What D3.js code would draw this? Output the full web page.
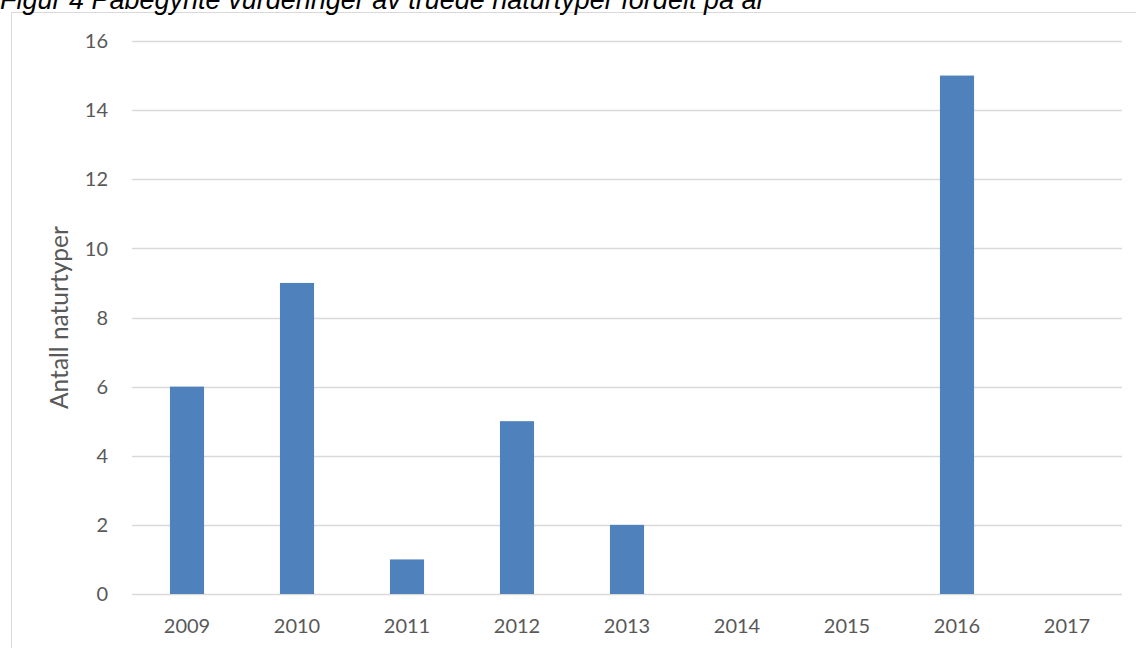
<!DOCTYPE html>
<html>
<head>
<meta charset="utf-8">
<script src="https://cdn.jsdelivr.net/npm/d3@7"></script>
<style>
  body { margin: 0; background: #fff; }
  svg { display: block; }
</style>
</head>
<body>
<svg></svg>
<script>
const years = ["2009", "2010", "2011", "2012", "2013", "2014", "2015", "2016", "2017"];
const antall = [6, 9, 1, 5, 2, 0, 0, 15, 0];
const yTicks = [0, 2, 4, 6, 8, 10, 12, 14, 16];

const width = 1136;
const height = 648;

const svg = d3.select("svg").attr("width", width).attr("height", height);

// chart area frame (only top and left edges are visible in the crop)
svg.append("line")
    .attr("x1", 11.5).attr("x2", width).attr("y1", 12.5).attr("y2", 12.5)
    .attr("stroke", "#d9d9d9");
svg.append("line")
    .attr("x1", 11.5).attr("x2", 11.5).attr("y1", 12.5).attr("y2", height)
    .attr("stroke", "#d9d9d9");

// title, partly cut off at the top like in the source
svg.append("text")
    .attr("x", 0).attr("y", 9)
    .attr("font-family", "Liberation Sans, Arial, sans-serif")
    .attr("font-style", "italic")
    .attr("font-size", 27)
    .attr("fill", "#000")
    .text("Figur 4 Påbegynte vurderinger av truede naturtyper fordelt på år");

const x = d3.scaleBand().domain(years).range([132, 1122]).paddingInner(0.69).paddingOuter(0.345);
const y = d3.scaleLinear().domain([0, 16]).range([594, 41]);

const font = "Lato, 'Open Sans', sans-serif";

// gridlines
svg.append("g")
    .selectAll("line")
    .data(yTicks)
    .enter()
    .append("line")
    .attr("x1", 132).attr("x2", 1122)
    .attr("y1", d => Math.round(y(d)) + 0.5)
    .attr("y2", d => Math.round(y(d)) + 0.5)
    .attr("stroke", "#d9d9d9")
    .attr("stroke-width", 1.3);

// y tick labels
svg.append("g")
    .selectAll("text")
    .data(yTicks)
    .enter()
    .append("text")
    .attr("x", 108)
    .attr("y", d => y(d))
    .attr("dy", "0.36em")
    .attr("text-anchor", "end")
    .attr("font-family", font)
    .attr("font-size", 20)
    .attr("fill", "#595959")
    .text(d => d);

// bars
svg.append("g")
    .selectAll("rect")
    .data(years)
    .enter()
    .append("rect")
    .attr("x", d => x(d))
    .attr("width", x.bandwidth())
    .attr("y", (d, i) => y(antall[i]))
    .attr("height", (d, i) => y(0) - y(antall[i]))
    .attr("fill", "#4f81bd");

// x labels
svg.append("g")
    .selectAll("text")
    .data(years)
    .enter()
    .append("text")
    .attr("x", d => x(d) + x.bandwidth() / 2)
    .attr("y", 633)
    .attr("text-anchor", "middle")
    .attr("font-family", font)
    .attr("font-size", 20)
    .attr("fill", "#595959")
    .text(d => d);

// y axis title
svg.append("text")
    .attr("transform", "translate(68," + ((y(0) + y(16)) / 2) + ") rotate(-90)")
    .attr("text-anchor", "middle")
    .attr("font-family", font)
    .attr("font-size", 24.5)
    .attr("fill", "#595959")
    .text("Antall naturtyper");
</script>
</body>
</html>
